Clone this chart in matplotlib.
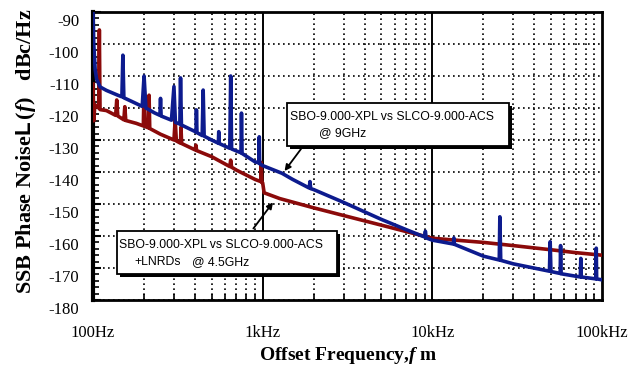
import matplotlib
matplotlib.use('Agg')
import matplotlib.pyplot as plt
import matplotlib.ticker as mticker
import matplotlib.transforms as mtrans
import matplotlib.patheffects as pe
from matplotlib.patches import Rectangle

plt.rcParams['font.family'] = ['Liberation Serif', 'DejaVu Serif']
plt.rcParams['axes.unicode_minus'] = False
plt.rcParams['mathtext.fontset'] = 'custom'
plt.rcParams['mathtext.rm'] = 'Liberation Serif:bold'
plt.rcParams['mathtext.it'] = 'Liberation Serif:italic:bold'
plt.rcParams['mathtext.sf'] = 'Liberation Sans:bold'

# SBO-9.000-XPL vs SLCO-9.000-ACS @ 9GHz (spurs included)
freq_9g = [100, 101, 103, 105, 110, 120, 140, 148, 150, 152, 170, 195, 200, 205,
           230, 248, 250, 252, 290, 300, 306, 325, 328, 332, 380, 405, 407, 410,
           440, 446, 452, 500, 548, 551, 555, 640, 648, 656, 745, 750, 756, 900,
           950, 955, 960, 1000, 1300, 1500, 1880, 1900, 1920, 2000, 3000, 5000,
           7000, 9000, 9100, 9200, 10000, 13300, 13400, 13500, 20000, 24800,
           25000, 25300, 30000, 49000, 49500, 50000, 56700, 57000, 57400, 74500,
           75000, 75500, 92000, 92500, 93000, 100000]
pn_9g = [-90, -100, -108, -111, -113.4, -114.5, -116, -116.5, -103.5, -116.8,
         -118, -119.5, -110, -120, -121.5, -122.3, -117, -122.5, -123.8, -113.3,
         -124.5, -125, -110.6, -125.3, -126.8, -127.5, -120.6, -127.7, -128.6,
         -114.4, -128.8, -130, -131, -127.4, -131.1, -132.6, -110, -132.8, -134,
         -121.6, -134.2, -136.8, -137.2, -129, -137.4, -138, -140.4, -142.3,
         -145, -143, -145.2, -145.5, -149.5, -154.8, -158, -160.3, -158.5,
         -160.6, -161.3, -162.5, -160.6, -162.6, -166.3, -167.5, -154, -167.6,
         -168.7, -171, -161.8, -171.1, -171.7, -163, -171.8, -172.8, -167,
         -172.8, -173.4, -163.8, -173.4, -173.7]

# SBO-9.000-XPL vs SLCO-9.000-ACS +LNRDs @ 4.5GHz
freq_45g = [100, 101, 102.5, 108, 109, 110, 120, 136, 138, 140, 150, 152, 154,
            156, 180, 198, 200, 203, 212, 214, 216, 250, 300, 305, 310, 328, 330,
            333, 400, 404, 408, 500, 640, 648, 656, 700, 900, 975, 980, 990,
            1000, 1020, 1260, 2000, 3000, 5000, 7000, 10000, 20000, 30000, 50000,
            70000, 100000]
pn_45g = [-112.5, -124, -119, -120, -95.6, -120.5, -120.8, -122.3, -117.5,
          -122.5, -123.5, -123.7, -119.6, -123.9, -124.8, -125.6, -113, -125.8,
          -126.2, -116, -126.4, -128.2, -130, -123.7, -130.3, -131, -126, -131.1,
          -133.1, -131.6, -133.3, -135.2, -138.3, -136.3, -138.5, -139.4, -142.3,
          -143, -137, -143.3, -143.4, -146.5, -148.3, -151.2, -153.6, -156.6,
          -158.6, -160.7, -162, -163, -164.3, -165.2, -166]

xticks = [100, 1000, 10000, 100000]
xlabels = ['100Hz', '1kHz', '10kHz', '100kHz']
yticks = list(range(-180, -89, 10))

W, H = 644, 367
fig = plt.figure(figsize=(W/100, H/100), dpi=100)
ax = fig.add_axes([93/W, 67/H, 509/W, 288/H])

ax.plot(freq_45g, pn_45g, color='#8b0a0a', lw=2.6, zorder=3)
ax.plot(freq_9g, pn_9g, color='#0d1b8e', lw=2.6, zorder=4)

ax.set_xscale('log')
ax.set_xlim(100, 100000)
ax.set_ylim(-180, -90)

ax.xaxis.set_major_locator(mticker.FixedLocator(xticks))
ax.xaxis.set_major_formatter(mticker.FixedFormatter(xlabels))
ax.xaxis.set_minor_locator(mticker.LogLocator(base=10, subs=range(2, 10)))
ax.xaxis.set_minor_formatter(mticker.NullFormatter())
ax.set_yticks(yticks)
ax.yaxis.set_minor_locator(mticker.MultipleLocator(2))

ax.tick_params(axis='x', which='major', length=0, pad=18, labelsize=12)
ax.tick_params(axis='x', which='minor', direction='in', length=4, width=1.2)
ax.tick_params(axis='y', which='major', direction='in', length=6, width=1.5,
               pad=10, labelsize=12)
ax.tick_params(axis='y', which='minor', direction='in', length=4, width=1.2)

offset = mtrans.ScaledTranslation(0, -8/100, fig.dpi_scale_trans)
for lab in ax.get_yticklabels():
    lab.set_transform(lab.get_transform() + offset)

ax.grid(True, axis='y', which='major', color='k', linestyle=(0, (1, 2)), lw=1.2)
ax.grid(True, axis='x', which='minor', color='k', linestyle=(0, (1, 2)), lw=1.2)
for f in [1000, 10000]:
    ax.axvline(f, color='k', lw=1.4, zorder=2)

for side, w in [('left', 3), ('bottom', 2), ('right', 2), ('top', 2)]:
    ax.spines[side].set_linewidth(w)

fig.text(26/W, 1 - 294/H, r'SSB Phase Noise$\mathsf{L}\,(\it{f}\rm{)}$   dBc/Hz',
         rotation=90, ha='center', va='bottom', fontsize=16, fontweight='bold')
fig.text(348/W, 1 - 355/H, r'Offset Frequency,$\it{f}$ m',
         ha='center', va='center', fontsize=14, fontweight='bold')

# annotation boxes (pixel extents from the reference) with a drop shadow
shadow = [pe.SimplePatchShadow(offset=(2, -2), shadow_rgbFace='k', alpha=1),
          pe.Normal()]
boxes = [(287, 103, 509, 146), (117, 231, 337, 274)]
for x0, y0, x1, y1 in boxes:
    fig.add_artist(Rectangle((x0/W, 1 - y1/H), (x1 - x0)/W, (y1 - y0)/H,
                             transform=fig.transFigure, fc='white', ec='k',
                             lw=1.3, zorder=6, path_effects=shadow))

labels = [('SBO-9.000-XPL vs SLCO-9.000-ACS', 290, 117),
          ('@ 9GHz', 319, 133),
          ('SBO-9.000-XPL vs SLCO-9.000-ACS', 119, 245),
          ('+LNRDs', 134, 262),
          ('@ 4.5GHz', 192, 262)]
for txt, x, y in labels:
    fig.text(x/W, 1 - y/H, txt, ha='left', va='center', fontsize=8.8,
             family='Liberation Sans', zorder=7)

arrow = dict(arrowstyle='-|>', color='k', lw=1.3, mutation_scale=9)
ax.annotate('', xy=(1316, -140.4), xytext=(302.7, H - 146.7),
            textcoords='figure pixels', arrowprops=arrow, zorder=6)
ax.annotate('', xy=(1177, -148.8), xytext=(251.7, H - 230.7),
            textcoords='figure pixels', arrowprops=arrow, zorder=6)

fig.savefig('out.png', dpi=100)
